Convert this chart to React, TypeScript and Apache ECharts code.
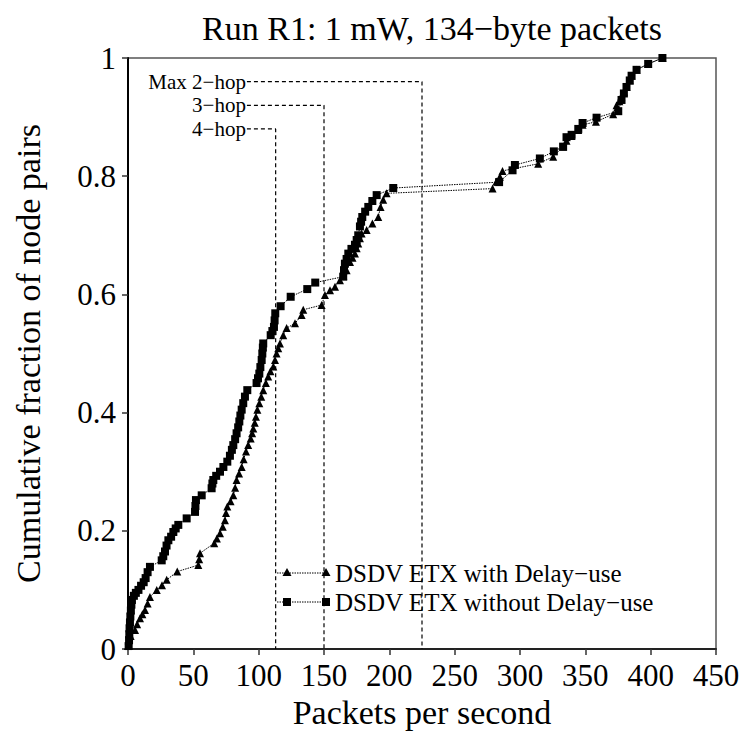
import React, { useEffect, useRef } from "react";
import * as echarts from "echarts";

const FONT = "'Liberation Serif', 'Times New Roman', serif";

const titleText = "Run R1: 1 mW, 134\u2212byte packets";
const xName = "Packets per second";
const yName = "Cumulative fraction of node pairs";
const seriesNames = ["DSDV ETX with Delay\u2212use", "DSDV ETX without Delay\u2212use"];

// With Delay-use (triangles)
const triX = [0, 0.5, 2, 5.4, 7, 9.2, 11, 13, 15, 16.8, 22, 26, 29.6, 37.7, 53.8, 54.5, 55.1, 66, 68, 70.4, 72.5, 74.2, 75, 76, 78.5, 80.6, 82, 83.1, 85, 87, 88.5, 90.3, 92, 93.9, 95, 95.9, 97, 97.9, 99, 100.5, 102, 103.5, 105.5, 107.3, 109, 111.2, 112.5, 113.7, 115, 116.3, 118.8, 121.4, 127.8, 132.9, 134.1, 148.2, 150.7, 154.6, 158.4, 162.2, 164.8, 167.3, 169.9, 171.8, 173.7, 175, 176.2, 177.5, 178.8, 182.6, 187, 191.5, 193.3, 195.3, 197.9, 279, 282, 284.6, 286.6, 313.9, 325.4, 333, 335.6, 339.5, 344.6, 347.9, 358.1, 371.3, 373.9, 376, 377.5, 379.5, 381.5, 384, 385.4, 389.2, 398.1, 409];
const triY = [0.005, 0.015, 0.022, 0.032, 0.042, 0.052, 0.059, 0.066, 0.077, 0.088, 0.1, 0.108, 0.117, 0.131, 0.142, 0.152, 0.162, 0.179, 0.187, 0.196, 0.207, 0.218, 0.23, 0.241, 0.25, 0.26, 0.273, 0.286, 0.297, 0.308, 0.321, 0.334, 0.345, 0.356, 0.365, 0.373, 0.383, 0.393, 0.405, 0.416, 0.427, 0.438, 0.45, 0.461, 0.47, 0.478, 0.489, 0.5, 0.509, 0.517, 0.531, 0.543, 0.551, 0.565, 0.574, 0.582, 0.599, 0.607, 0.613, 0.624, 0.632, 0.641, 0.655, 0.662, 0.669, 0.678, 0.686, 0.695, 0.703, 0.709, 0.72, 0.731, 0.748, 0.76, 0.771, 0.779, 0.791, 0.799, 0.809, 0.821, 0.833, 0.85, 0.86, 0.868, 0.878, 0.887, 0.892, 0.905, 0.92, 0.927, 0.935, 0.943, 0.951, 0.962, 0.97, 0.98, 0.99, 1.0];

// Without Delay-use (squares)
const sqX = [0.5, 0.8, 1, 1.2, 1.5, 1.8, 2.2, 2.6, 3, 4.5, 6, 8, 10, 12, 13.5, 15, 16.8, 25.8, 27, 28.3, 29.5, 30.9, 33, 34.7, 36.5, 38.5, 44.9, 51.3, 51.6, 52, 56.4, 64, 64.6, 65.3, 67.5, 70.4, 73, 76, 78, 79.5, 80.6, 82, 83.1, 84.3, 85.2, 86, 87, 88.2, 89.5, 91.3, 98.4, 99.5, 100.5, 101.3, 102.3, 102.8, 103.2, 103.5, 109.2, 110.5, 111.7, 112.2, 112.7, 116.8, 124.5, 137.2, 143.3, 164.7, 165.3, 166, 167.3, 168.6, 171, 173.7, 175, 176.2, 177.5, 178.4, 179.3, 181.5, 183.9, 187, 190.3, 203, 284, 294.3, 296.1, 315.2, 325.9, 333, 335.6, 339.5, 344.6, 347.9, 358.6, 375.2, 377.7, 379.5, 381.5, 384, 385.4, 389.2, 398.1, 409];
const sqY = [0.005, 0.015, 0.025, 0.035, 0.045, 0.055, 0.065, 0.075, 0.083, 0.09, 0.095, 0.1, 0.107, 0.113, 0.12, 0.13, 0.139, 0.15, 0.157, 0.165, 0.175, 0.184, 0.19, 0.198, 0.204, 0.21, 0.221, 0.232, 0.242, 0.252, 0.26, 0.272, 0.28, 0.286, 0.293, 0.3, 0.308, 0.317, 0.327, 0.337, 0.345, 0.355, 0.365, 0.375, 0.385, 0.395, 0.405, 0.416, 0.427, 0.438, 0.45, 0.458, 0.466, 0.477, 0.489, 0.5, 0.51, 0.517, 0.531, 0.538, 0.545, 0.556, 0.568, 0.58, 0.596, 0.609, 0.62, 0.63, 0.641, 0.652, 0.66, 0.669, 0.677, 0.684, 0.692, 0.7, 0.715, 0.723, 0.731, 0.74, 0.748, 0.758, 0.768, 0.78, 0.79, 0.81, 0.819, 0.83, 0.842, 0.85, 0.866, 0.87, 0.88, 0.89, 0.899, 0.91, 0.929, 0.94, 0.951, 0.962, 0.97, 0.98, 0.99, 1.0];

// Hop-limit annotations
const hopLabels = ["Max 2\u2212hop", "3\u2212hop", "4\u2212hop"];
const hopX = [225, 150, 113];
const hopY = [0.96, 0.92, 0.88];
const hopLabelX = 91;

const xTicks = [0, 50, 100, 150, 200, 250, 300, 350, 400, 450];
const yTicks = [0, 0.2, 0.4, 0.6, 0.8, 1];

export default function App() {
  const ref = useRef<HTMLDivElement>(null);
  useEffect(() => {
    if (!ref.current) return;
    const chart = echarts.init(ref.current, null, { renderer: "svg" });
    const zip = (xs: number[], ys: number[]) => xs.map((x, i) => [x, ys[i]]);
    const hopSeries = hopLabels.map((lab, i) => ({
      type: "line",
      silent: true,
      symbol: "circle",
      symbolSize: 0.01,
      showSymbol: true,
      lineStyle: { color: "#000", width: 1.2, type: [4, 3] },
      itemStyle: { color: "#000" },
      data: [
        {
          value: [hopLabelX, hopY[i]],
          label: {
            show: true,
            position: "left",
            distance: 1,
            formatter: lab,
            color: "#000",
            fontFamily: FONT,
            fontSize: 21,
          },
        },
        [hopX[i], hopY[i]],
        [hopX[i], 0],
      ],
      z: 1,
    }));

    const legendY = [573, 602];
    const legendGraphics: any[] = [];
    legendY.forEach((y, i) => {
      legendGraphics.push({
        type: "line",
        shape: { x1: 277, y1: y, x2: 326, y2: y },
        style: { stroke: "#000", lineWidth: 1, lineDash: [1.5, 1] },
      });
      [287, 326].forEach((cx) => {
        if (i === 0) {
          legendGraphics.push({
            type: "polygon",
            shape: { points: [[cx, y - 5], [cx - 4.5, y + 3], [cx + 4.5, y + 3]] },
            style: { fill: "#000" },
          });
        } else {
          legendGraphics.push({
            type: "rect",
            shape: { x: cx - 4, y: y - 4, width: 8, height: 8 },
            style: { fill: "#000" },
          });
        }
      });
      legendGraphics.push({
        type: "text",
        x: 335,
        y: y,
        style: {
          text: seriesNames[i],
          fill: "#000",
          font: `25px ${FONT}`,
          verticalAlign: "middle",
          align: "left",
        },
      });
    });

    chart.setOption({
      animation: false,
      backgroundColor: "#fff",
      textStyle: { fontFamily: FONT, color: "#000" },
      title: {
        text: titleText,
        left: 427,
        top: 6,
        textAlign: "center",
        textStyle: { fontFamily: FONT, fontSize: 34, fontWeight: "normal", color: "#000" },
      },
      grid: {
        left: 128,
        right: 31,
        top: 58,
        bottom: 99,
        show: true,
        borderColor: "#555",
        borderWidth: 1.5,
        backgroundColor: "transparent",
      },
      xAxis: {
        type: "value",
        min: 0,
        max: 450,
        interval: 50,
        name: xName,
        nameLocation: "middle",
        nameGap: 45,
        nameTextStyle: { fontFamily: FONT, fontSize: 34, color: "#000" },
        axisLine: { show: true, lineStyle: { color: "#222", width: 2 } },
        axisTick: { show: true, inside: false, length: 6, lineStyle: { color: "#333", width: 1.5 } },
        axisLabel: {
          margin: 11,
          fontFamily: FONT,
          fontSize: 31,
          color: "#000",
          formatter: (v: number) => (xTicks.includes(v) ? String(v) : ""),
        },
        splitLine: { show: false },
      },
      yAxis: {
        type: "value",
        min: 0,
        max: 1,
        interval: 0.2,
        name: yName,
        nameLocation: "middle",
        nameGap: 83,
        nameRotate: 90,
        nameTextStyle: { fontFamily: FONT, fontSize: 34, color: "#000" },
        axisLine: { show: true, lineStyle: { color: "#000", width: 2 } },
        axisTick: { show: true, inside: false, length: 6, lineStyle: { color: "#333", width: 1.5 } },
        axisLabel: {
          margin: 12,
          fontFamily: FONT,
          fontSize: 31,
          color: "#000",
          formatter: (v: number) => {
            const r = Math.round(v * 10) / 10;
            return yTicks.includes(r) ? String(r) : "";
          },
        },
        splitLine: { show: false },
      },
      series: [
        ...hopSeries,
        {
          name: seriesNames[0],
          type: "line",
          symbol: "triangle",
          symbolSize: 8,
          itemStyle: { color: "#000" },
          lineStyle: { color: "#000", width: 1, type: [1.5, 1] },
          data: zip(triX, triY),
          z: 3,
        },
        {
          name: seriesNames[1],
          type: "line",
          symbol: "rect",
          symbolSize: 8,
          itemStyle: { color: "#000" },
          lineStyle: { color: "#000", width: 1, type: [1.5, 1] },
          data: zip(sqX, sqY),
          z: 3,
        },
      ],
      graphic: legendGraphics,
    });
    return () => chart.dispose();
  }, []);
  return (
    <div
      ref={ref}
      style={{ position: "fixed", left: 0, top: 0, width: 747, height: 748, background: "#fff" }}
    />
  );
}
